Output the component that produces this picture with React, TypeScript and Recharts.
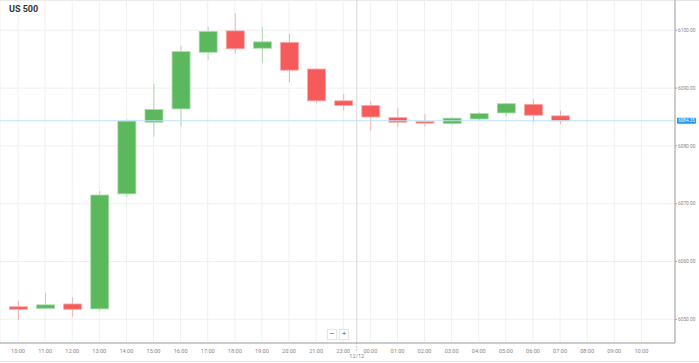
import { ComposedChart, Bar, XAxis, YAxis, CartesianGrid, ReferenceLine } from 'recharts'

const times = ['10:00', '11:00', '12:00', '13:00', '14:00', '15:00', '16:00', '17:00', '18:00', '19:00', '20:00', '21:00', '23:00',
  '00:00', '01:00', '02:00', '03:00', '04:00', '05:00', '06:00', '07:00', '08:00', '09:00', '10:00']
const opens = [6052.18, 6051.9, 6052.65, 6051.8, 6071.7, 6084.1, 6086.4, 6096.2, 6099.9, 6096.9, 6097.9, 6093.3, 6087.8,
  6087.0, 6084.9, 6084.2, 6083.85, 6084.65, 6085.7, 6087.2, 6085.2, null, null, null]
const highs = [6053.2, 6054.6, 6053.8, 6072.2, 6084.6, 6090.7, 6097.3, 6100.6, 6103.0, 6100.6, 6099.4, 6093.4, 6089.0,
  6087.8, 6086.5, 6085.5, 6084.95, 6085.9, 6087.4, 6088.1, 6086.1, null, null, null]
const lows = [6049.9, 6051.85, 6050.45, 6051.4, 6071.1, 6081.6, 6083.3, 6094.9, 6096.0, 6094.3, 6091.0, 6087.4, 6086.1,
  6082.6, 6083.3, 6083.3, 6083.6, 6084.35, 6085.05, 6084.1, 6083.8, null, null, null]
const closes = [6051.73, 6052.5, 6051.73, 6071.5, 6084.3, 6086.3, 6096.3, 6099.8, 6096.8, 6098.0, 6093.1, 6087.8, 6087.0,
  6085.0, 6084.1, 6083.95, 6084.8, 6085.6, 6087.3, 6085.3, 6084.35, null, null, null]
const priceTicks = [6050, 6060, 6070, 6080, 6090, 6100]
const lastPrice = 6084.35
const dayLabel = '12/12'

const data = times.map((t, i) => ({
  i,
  t,
  o: opens[i],
  h: highs[i],
  l: lows[i],
  c: closes[i],
}))

const GREEN = '#5cb85c'
const RED = '#f55b5b'

function Candle(props: any) {
  const { x, y, width, height, payload } = props
  if (payload.h == null || height == null) return null
  const k = height / (payload.h - payload.l)
  const up = payload.c >= payload.o
  const color = up ? GREEN : RED
  const top = y + (payload.h - Math.max(payload.o, payload.c)) * k
  const bh = Math.max(Math.abs(payload.o - payload.c) * k, 1.5)
  const cx = x + width / 2
  return (
    <g>
      <line x1={cx} x2={cx} y1={y} y2={y + height} stroke={color} strokeOpacity={0.45} strokeWidth={1} />
      <rect x={x} y={top} width={width} height={bh} fill={color} stroke={up ? '#a8dca8' : '#fba9a9'} strokeWidth={0.8} />
    </g>
  )
}

function PriceBadge(props: any) {
  const { viewBox } = props
  const x = viewBox.x + viewBox.width + 2
  const y = viewBox.y
  return (
    <g>
      <rect x={x} y={y - 3} width={19} height={6} rx={1} fill="#2196f3" />
      <text x={x + 9.5} y={y + 0.3} textAnchor="middle" dominantBaseline="middle" fontSize={4.6} fill="#fff">
        {lastPrice.toFixed(2)}
      </text>
    </g>
  )
}

function DayLabel(props: any) {
  const { viewBox } = props
  const x = viewBox.x
  const y = viewBox.y + viewBox.height
  return (
    <g>
      <line x1={x} x2={x} y1={y} y2={y + 9} stroke="#bbb" strokeDasharray="1.5 1.5" />
      <text x={x} y={y + 14} textAnchor="middle" dominantBaseline="middle" fontSize={5.6} fill="#888">
        {dayLabel}
      </text>
    </g>
  )
}

const btn: React.CSSProperties = {
  position: 'absolute', top: 329, width: 8, height: 9, background: '#fff', border: '1px solid #e6e6e6',
  fontSize: 8, lineHeight: '8px', textAlign: 'center', color: '#555', fontFamily: 'Arial, sans-serif',
  boxShadow: '0 0 1px rgba(0,0,0,0.1)',
}

export default function App() {
  return (
    <div style={{ position: 'absolute', left: 0, top: 0, width: 699, height: 363, background: '#fff', fontFamily: 'Roboto, sans-serif' }}>
      <div style={{ position: 'absolute', left: 0, top: 0, width: 699, height: 1, background: '#e4e4e4' }} />
      <div style={{ position: 'absolute', left: 0, top: 361, width: 699, height: 1, background: '#e4e4e4' }} />
      <ComposedChart width={699} height={363} data={data} margin={{ top: 0, right: 0, left: 0, bottom: 0 }}>
        <CartesianGrid stroke="#f0f0f0" strokeWidth={1} />
        <XAxis
          dataKey="i"
          type="number"
          domain={[-0.664, 24.24]}
          ticks={times.map((_, i) => i)}
          tickFormatter={(v: number) => times[v]}
          interval={0}
          height={20}
          allowDataOverflow
          stroke="#a0a0a0"
          tickLine={false}
          tick={{ fontSize: 5.6, fill: '#888' }}
          tickMargin={0}
        />
        <YAxis
          orientation="right"
          domain={[6045.9, 6105.24]}
          ticks={priceTicks}
          tickFormatter={(v: number) => v.toFixed(2)}
          width={24}
          allowDataOverflow
          stroke="#a0a0a0"
          tickSize={2}
          tickMargin={1}
          tick={{ fontSize: 4.8, fill: '#888', textAnchor: 'start' }}
        />
        <ReferenceLine x={12.5} stroke="#d8d8d8" label={<DayLabel />} />
        <ReferenceLine y={lastPrice} stroke="#bde3f6" strokeWidth={1.2} label={<PriceBadge />} />
        <Bar
          dataKey={(d: any) => (d.h == null ? null : [d.l, d.h])}
          barSize={18}
          shape={<Candle />}
          isAnimationActive={false}
        />
      </ComposedChart>
      <div style={{ position: 'absolute', left: 9, top: 4, fontSize: 9, fontWeight: 700, color: '#333' }}>US 500</div>
      <div style={{ ...btn, left: 327 }}>−</div>
      <div style={{ ...btn, left: 339 }}>+</div>
    </div>
  )
}
